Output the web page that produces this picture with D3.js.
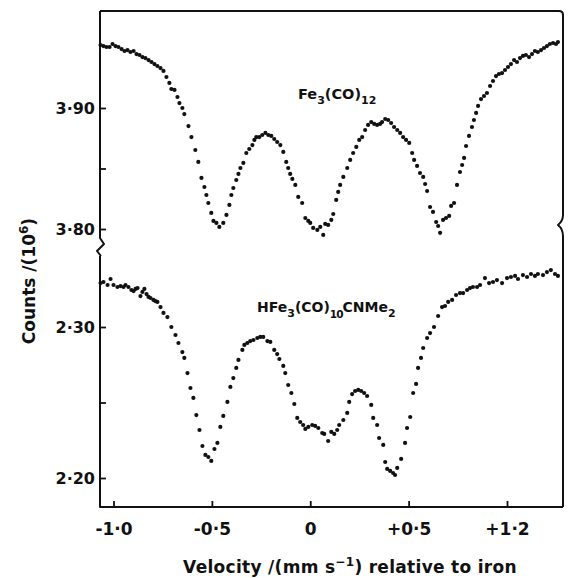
<!DOCTYPE html>
<html><head><meta charset="utf-8">
<script src="https://cdn.jsdelivr.net/npm/d3@7"></script>
<style>body{margin:0;background:#fff}svg{display:block}text{font-family:"DejaVu Sans",sans-serif;fill:#111;font-weight:bold}</style>
</head><body><svg id="c" width="569" height="578"></svg>
<script>
// Fe3(CO)12 spectrum: velocity (mm/s) and counts (10^6)
const topVel = [-1.066,-1.051,-1.036,-1.020,-1.005,-0.990,-0.975,-0.959,-0.944,-0.929,-0.914,-0.898,-0.883,-0.868,-0.853,-0.838,-0.822,-0.807,-0.792,-0.777,-0.761,-0.746,-0.731,-0.716,-0.706,-0.690,-0.675,-0.665,-0.650,-0.640,-0.619,-0.604,-0.584,-0.569,-0.553,-0.538,-0.528,-0.518,-0.503,-0.492,-0.477,-0.462,-0.442,-0.426,-0.411,-0.401,-0.391,-0.376,-0.365,-0.355,-0.340,-0.325,-0.310,-0.294,-0.284,-0.274,-0.259,-0.244,-0.228,-0.213,-0.198,-0.183,-0.168,-0.152,-0.137,-0.122,-0.112,-0.102,-0.091,-0.076,-0.061,-0.041,-0.025,-0.010,0.000,0.015,0.036,0.051,0.066,0.076,0.091,0.107,0.117,0.132,0.142,0.152,0.168,0.188,0.203,0.218,0.234,0.249,0.264,0.279,0.294,0.310,0.325,0.340,0.355,0.365,0.381,0.396,0.411,0.426,0.442,0.457,0.472,0.487,0.503,0.518,0.528,0.543,0.558,0.574,0.584,0.594,0.609,0.624,0.640,0.650,0.660,0.675,0.690,0.706,0.716,0.731,0.746,0.761,0.772,0.782,0.792,0.807,0.822,0.832,0.843,0.853,0.868,0.883,0.898,0.914,0.929,0.944,0.959,0.975,0.990,1.005,1.020,1.036,1.051,1.066,1.081,1.096,1.112,1.127,1.142,1.157,1.173,1.188,1.203,1.218,1.234,1.249,1.259];
const topCounts = [3.9520,3.9512,3.9504,3.9504,3.9529,3.9512,3.9504,3.9487,3.9471,3.9479,3.9463,3.9471,3.9446,3.9438,3.9421,3.9413,3.9396,3.9380,3.9363,3.9347,3.9330,3.9306,3.9256,3.9207,3.9157,3.9149,3.9091,3.9041,3.9000,3.8950,3.8851,3.8760,3.8653,3.8554,3.8422,3.8347,3.8281,3.8215,3.8133,3.8067,3.8050,3.8017,3.8050,3.8116,3.8199,3.8281,3.8339,3.8405,3.8455,3.8504,3.8546,3.8628,3.8661,3.8694,3.8736,3.8760,3.8760,3.8777,3.8794,3.8777,3.8769,3.8744,3.8719,3.8694,3.8637,3.8554,3.8504,3.8455,3.8414,3.8364,3.8265,3.8215,3.8091,3.8067,3.8050,3.8009,3.7992,3.8017,3.7951,3.8042,3.8034,3.8075,3.8124,3.8240,3.8306,3.8364,3.8430,3.8504,3.8571,3.8628,3.8678,3.8736,3.8760,3.8818,3.8860,3.8884,3.8868,3.8860,3.8868,3.8884,3.8909,3.8901,3.8876,3.8843,3.8818,3.8794,3.8760,3.8736,3.8711,3.8628,3.8571,3.8521,3.8463,3.8430,3.8372,3.8314,3.8182,3.8141,3.8058,3.8025,3.7968,3.8075,3.8091,3.8108,3.8191,3.8215,3.8364,3.8471,3.8529,3.8587,3.8686,3.8769,3.8843,3.8901,3.8959,3.9017,3.9074,3.9099,3.9124,3.9182,3.9223,3.9264,3.9281,3.9289,3.9314,3.9339,3.9363,3.9396,3.9380,3.9413,3.9430,3.9438,3.9421,3.9446,3.9471,3.9463,3.9479,3.9496,3.9512,3.9529,3.9537,3.9529,3.9545];
// HFe3(CO)10CNMe2 spectrum
const botVel = [-1.066,-1.051,-1.030,-1.015,-1.000,-0.980,-0.964,-0.949,-0.939,-0.924,-0.909,-0.898,-0.888,-0.878,-0.863,-0.853,-0.843,-0.832,-0.822,-0.812,-0.797,-0.787,-0.777,-0.761,-0.746,-0.726,-0.706,-0.685,-0.670,-0.650,-0.640,-0.624,-0.609,-0.594,-0.579,-0.563,-0.548,-0.533,-0.518,-0.503,-0.487,-0.472,-0.457,-0.442,-0.421,-0.406,-0.391,-0.376,-0.365,-0.345,-0.335,-0.320,-0.305,-0.289,-0.269,-0.254,-0.239,-0.218,-0.203,-0.183,-0.168,-0.157,-0.137,-0.127,-0.112,-0.096,-0.081,-0.066,-0.051,-0.036,-0.025,-0.010,0.010,0.025,0.041,0.061,0.071,0.091,0.107,0.122,0.137,0.147,0.168,0.188,0.198,0.213,0.228,0.244,0.259,0.274,0.289,0.310,0.320,0.340,0.350,0.371,0.381,0.391,0.406,0.421,0.431,0.442,0.462,0.482,0.492,0.508,0.523,0.538,0.548,0.563,0.574,0.594,0.609,0.629,0.650,0.670,0.685,0.701,0.721,0.741,0.761,0.777,0.797,0.812,0.827,0.848,0.863,0.888,0.909,0.929,0.949,0.975,1.000,1.020,1.041,1.056,1.081,1.102,1.122,1.142,1.157,1.183,1.203,1.223,1.244,1.259];
const botCounts = [2.3291,2.3298,2.3278,2.3318,2.3278,2.3265,2.3271,2.3265,2.3278,2.3265,2.3245,2.3238,2.3252,2.3258,2.3205,2.3232,2.3252,2.3218,2.3199,2.3192,2.3179,2.3172,2.3166,2.3132,2.3093,2.3066,2.3000,2.2947,2.2894,2.2834,2.2795,2.2695,2.2596,2.2530,2.2417,2.2318,2.2212,2.2153,2.2139,2.2113,2.2192,2.2232,2.2338,2.2411,2.2504,2.2603,2.2662,2.2729,2.2782,2.2848,2.2881,2.2894,2.2907,2.2914,2.2927,2.2934,2.2934,2.2907,2.2901,2.2848,2.2821,2.2788,2.2742,2.2695,2.2616,2.2563,2.2490,2.2398,2.2371,2.2351,2.2325,2.2338,2.2351,2.2345,2.2331,2.2298,2.2292,2.2245,2.2305,2.2292,2.2318,2.2351,2.2384,2.2431,2.2504,2.2556,2.2576,2.2583,2.2576,2.2563,2.2543,2.2484,2.2398,2.2351,2.2265,2.2219,2.2106,2.2060,2.2047,2.2033,2.2020,2.2067,2.2126,2.2232,2.2331,2.2404,2.2563,2.2623,2.2729,2.2795,2.2861,2.2927,2.2960,2.3000,2.3073,2.3132,2.3139,2.3166,2.3179,2.3212,2.3225,2.3225,2.3245,2.3258,2.3265,2.3265,2.3278,2.3324,2.3291,2.3298,2.3311,2.3291,2.3324,2.3331,2.3338,2.3318,2.3344,2.3331,2.3351,2.3338,2.3351,2.3344,2.3364,2.3377,2.3351,2.3338];

const xTicks = [-1.0,-0.5,0,0.5,1.0];
const xTickLabels = ["-1·0","-0·5","0","+0·5","+1·2"];
const topTicks = [3.80,3.85,3.90];
const topTickLabels = {"3.8":"3·80","3.9":"3·90"};
const botTicks = [2.20,2.25,2.30];
const botTickLabels = {"2.2":"2·20","2.3":"2·30"};

const svg = d3.select("#c");
const L = 100, R = 563, T = 11, B = 507;
const x = d3.scaleLinear().domain([-1,1]).range([113.5,507]);
const yTop = d3.scaleLinear().domain([3.80,3.90]).range([229,108]);
const yBot = d3.scaleLinear().domain([2.20,2.30]).range([478,327]);

// frame
const fr = svg.append("g").attr("fill","none").attr("stroke","#111").attr("stroke-width",2).attr("stroke-linejoin","round");
fr.append("path").attr("d",`M${L},${T}V238L${L+4},244L${L-3},251L${L+1},256`);
fr.append("path").attr("d",`M${L},256V${B}H${R}`);
fr.append("path").attr("d",`M${L},${T}H${R-4}Q${R},${T} ${R},${T+4}`);
// right axis with brace break
fr.append("path").attr("d",`M${R},${T+4}V215Q${R},221 ${R-5},225Q${R},229 ${R},236V${B}`);

// x axis ticks (inward)
const xa = d3.axisBottom(x).tickValues(xTicks).tickSize(-6).tickFormat((d,i)=>xTickLabels[i]);
const gx = svg.append("g").attr("transform",`translate(0,${B})`).call(xa);
gx.select(".domain").remove();
gx.selectAll(".tick line").attr("stroke","#111").attr("stroke-width",1.8);
gx.selectAll(".tick text").attr("dy",0).attr("y",28).attr("font-size",17).attr("fill","#111").attr("font-family","DejaVu Sans").attr("font-weight","bold");

function yAxis(scale, ticks, labels){
  const a = d3.axisLeft(scale).tickValues(ticks).tickSize(-6).tickPadding(4)
    .tickFormat(d=>labels[String(+d.toFixed(2))]||"");
  const g = svg.append("g").attr("transform",`translate(${L},0)`).call(a);
  g.select(".domain").remove();
  g.selectAll(".tick line").attr("stroke","#111").attr("stroke-width",1.8);
  g.selectAll(".tick text").attr("font-size",16).attr("fill","#111").attr("font-family","DejaVu Sans").attr("font-weight","bold").attr("x",-5);
}
yAxis(yTop, topTicks, topTickLabels);
yAxis(yBot, botTicks, botTickLabels);

// data points
const topData = topVel.map((v,i)=>({v,c:topCounts[i]}));
const botData = botVel.map((v,i)=>({v,c:botCounts[i]}));
svg.append("g").selectAll("circle").data(topData).join("circle")
  .attr("cx",d=>x(d.v)).attr("cy",d=>yTop(d.c)).attr("r",2.1).attr("fill","#111");
svg.append("g").selectAll("circle").data(botData).join("circle")
  .attr("cx",d=>x(d.v)).attr("cy",d=>yBot(d.c)).attr("r",2.1).attr("fill","#111");

// labels
const t1 = svg.append("text").attr("x",298).attr("y",99).attr("font-size",14.5);
t1.append("tspan").text("Fe");
t1.append("tspan").attr("font-size",11).attr("dy",5).text("3");
t1.append("tspan").attr("dy",-5).text("(CO)");
t1.append("tspan").attr("font-size",11).attr("dy",5).text("12");

const t2 = svg.append("text").attr("x",257).attr("y",312).attr("font-size",14);
t2.append("tspan").text("HFe");
t2.append("tspan").attr("font-size",11).attr("dy",5).text("3");
t2.append("tspan").attr("dy",-5).text("(CO)");
t2.append("tspan").attr("font-size",10.5).attr("dy",6).attr("letter-spacing",-1).text("10");
t2.append("tspan").attr("dy",-6).text("CNMe");
t2.append("tspan").attr("font-size",11).attr("dy",5).text("2");

const yt = svg.append("text").attr("transform","translate(35,281) rotate(-90)").attr("text-anchor","middle").attr("font-size",17);
yt.append("tspan").text("Counts /(10");
yt.append("tspan").attr("font-size",12).attr("dy",-7).text("6");
yt.append("tspan").attr("dy",7).text(")");

const xt = svg.append("text").attr("x",350).attr("y",573).attr("text-anchor","middle").attr("font-size",17).attr("letter-spacing",0.3);
xt.append("tspan").text("Velocity /(mm s");
xt.append("tspan").attr("font-size",12).attr("dy",-7).text("−1");
xt.append("tspan").attr("dy",7).text(") relative to iron");
</script></body></html>
